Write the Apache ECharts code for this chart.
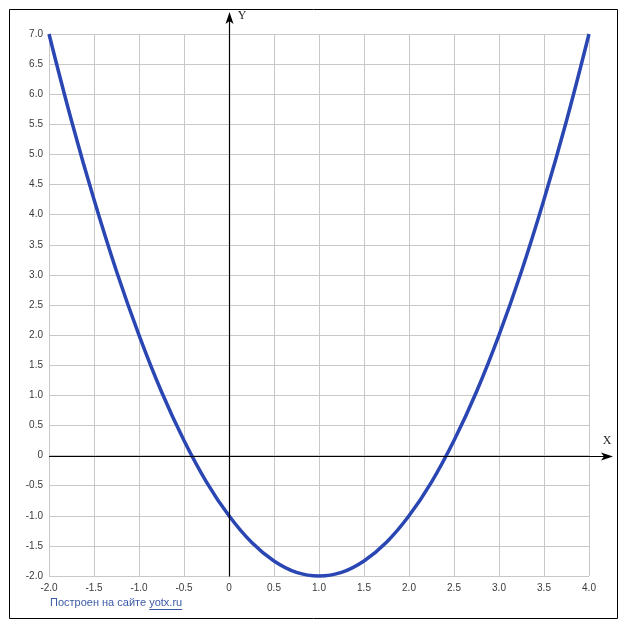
<!DOCTYPE html>
<html>
<head>
<meta charset="utf-8">
<script src="https://cdn.jsdelivr.net/npm/echarts@6/dist/echarts.min.js"></script>
<style>
html,body{margin:0;padding:0;background:#fff;}
#chart{width:627px;height:630px;}
</style>
</head>
<body>
<div id="chart"></div>
<script>
// Values
var xValues = [-2, -1.75, -1.5, -1.25, -1, -0.75, -0.5, -0.25, 0, 0.25, 0.5, 0.75, 1, 1.25, 1.5, 1.75, 2, 2.25, 2.5, 2.75, 3, 3.25, 3.5, 3.75, 4];
var yValues = [7, 5.56, 4.25, 3.06, 2, 1.06, 0.25, -0.44, -1, -1.44, -1.75, -1.94, -2, -1.94, -1.75, -1.44, -1, -0.44, 0.25, 1.06, 2, 3.06, 4.25, 5.56, 7];
var xRange = [-2, 4];
var yRange = [-2, 7];
var tickStep = 0.5;
var axisNames = ['X', 'Y'];
var footerText = 'Построен на сайте ';
var footerLink = 'yotx.ru';

var points = xValues.map(function (x, i) { return [x, yValues[i]]; });
var fmt = function (v) { return Math.abs(v) < 1e-9 ? '0' : v.toFixed(1); };

var chart = echarts.init(document.getElementById('chart'), null, { renderer: 'canvas' });
var labelStyle = { color: '#3a3a3a', fontFamily: 'Liberation Sans', fontSize: 10 };
chart.setOption({
  animation: false,
  backgroundColor: '#fff',
  grid: { left: 49, right: 38, top: 34, bottom: 54, containLabel: false },
  xAxis: {
    type: 'value', min: xRange[0], max: xRange[1], interval: tickStep,
    axisLine: { show: false }, axisTick: { show: false },
    splitLine: { show: true, lineStyle: { color: '#c8c8c8', width: 1 } },
    axisLabel: Object.assign({ margin: 7, formatter: fmt, showMinLabel: true, showMaxLabel: true }, labelStyle)
  },
  yAxis: {
    type: 'value', min: yRange[0], max: yRange[1], interval: tickStep,
    axisLine: { show: false }, axisTick: { show: false },
    splitLine: { show: true, lineStyle: { color: '#c8c8c8', width: 1 } },
    axisLabel: Object.assign({ margin: 6, formatter: fmt, showMinLabel: true, showMaxLabel: true }, labelStyle)
  },
  series: [{
    type: 'line', data: points, smooth: 0.4, symbol: 'none', clip: false,
    lineStyle: { color: '#2a46b2', width: 3.5 }, z: 5
  }]
});

var o = chart.convertToPixel({ gridIndex: 0 }, [0, 0]);
var bl = chart.convertToPixel({ gridIndex: 0 }, [xRange[0], yRange[0]]);
var ox = Math.round(o[0]) + 0.5, oy = Math.round(o[1]) + 0.5;
var left = Math.round(bl[0]), bottom = Math.round(bl[1]) + 0.5;

var footFont = '11px "Liberation Sans"';
var ctx = document.createElement('canvas').getContext('2d');
ctx.font = footFont;
var fw = ctx.measureText(footerText).width;
var lw = ctx.measureText(footerLink).width;
var fx = 50, fy = 603;

chart.setOption({
  graphic: [
    { type: 'rect', shape: { x: 9.5, y: 9.5, width: 608, height: 609 }, style: { fill: null, stroke: '#000', lineWidth: 1 }, z: 100 },
    { type: 'line', shape: { x1: ox, y1: bottom, x2: ox, y2: 20 }, style: { stroke: '#000', lineWidth: 1.2 }, z: 50 },
    { type: 'polygon', shape: { points: [[ox, 12], [ox - 4, 24], [ox, 21], [ox + 4, 24]] }, style: { fill: '#000' }, z: 50 },
    { type: 'line', shape: { x1: left, y1: oy, x2: 606, y2: oy }, style: { stroke: '#000', lineWidth: 1.2 }, z: 50 },
    { type: 'polygon', shape: { points: [[613, oy], [601, oy - 4], [604, oy], [601, oy + 4]] }, style: { fill: '#000' }, z: 50 },
    { type: 'text', style: { text: axisNames[1], x: 242, y: 16, fill: '#222', font: '12px "Liberation Serif"', textAlign: 'center', textVerticalAlign: 'middle' }, z: 50 },
    { type: 'text', style: { text: axisNames[0], x: 607, y: 441, fill: '#222', font: '12px "Liberation Serif"', textAlign: 'center', textVerticalAlign: 'middle' }, z: 50 },
    { type: 'text', style: { text: footerText, x: fx, y: fy, fill: '#3b5aa6', font: footFont, textAlign: 'left', textVerticalAlign: 'middle' }, z: 50 },
    { type: 'text', style: { text: footerLink, x: fx + fw, y: fy, fill: '#3b5aa6', font: footFont, textAlign: 'left', textVerticalAlign: 'middle' }, z: 50 },
    { type: 'line', shape: { x1: fx + fw, y1: fy + 6.5, x2: fx + fw + lw, y2: fy + 6.5 }, style: { stroke: '#3b5aa6', lineWidth: 1 }, z: 50 }
  ]
});
</script>
</body>
</html>
